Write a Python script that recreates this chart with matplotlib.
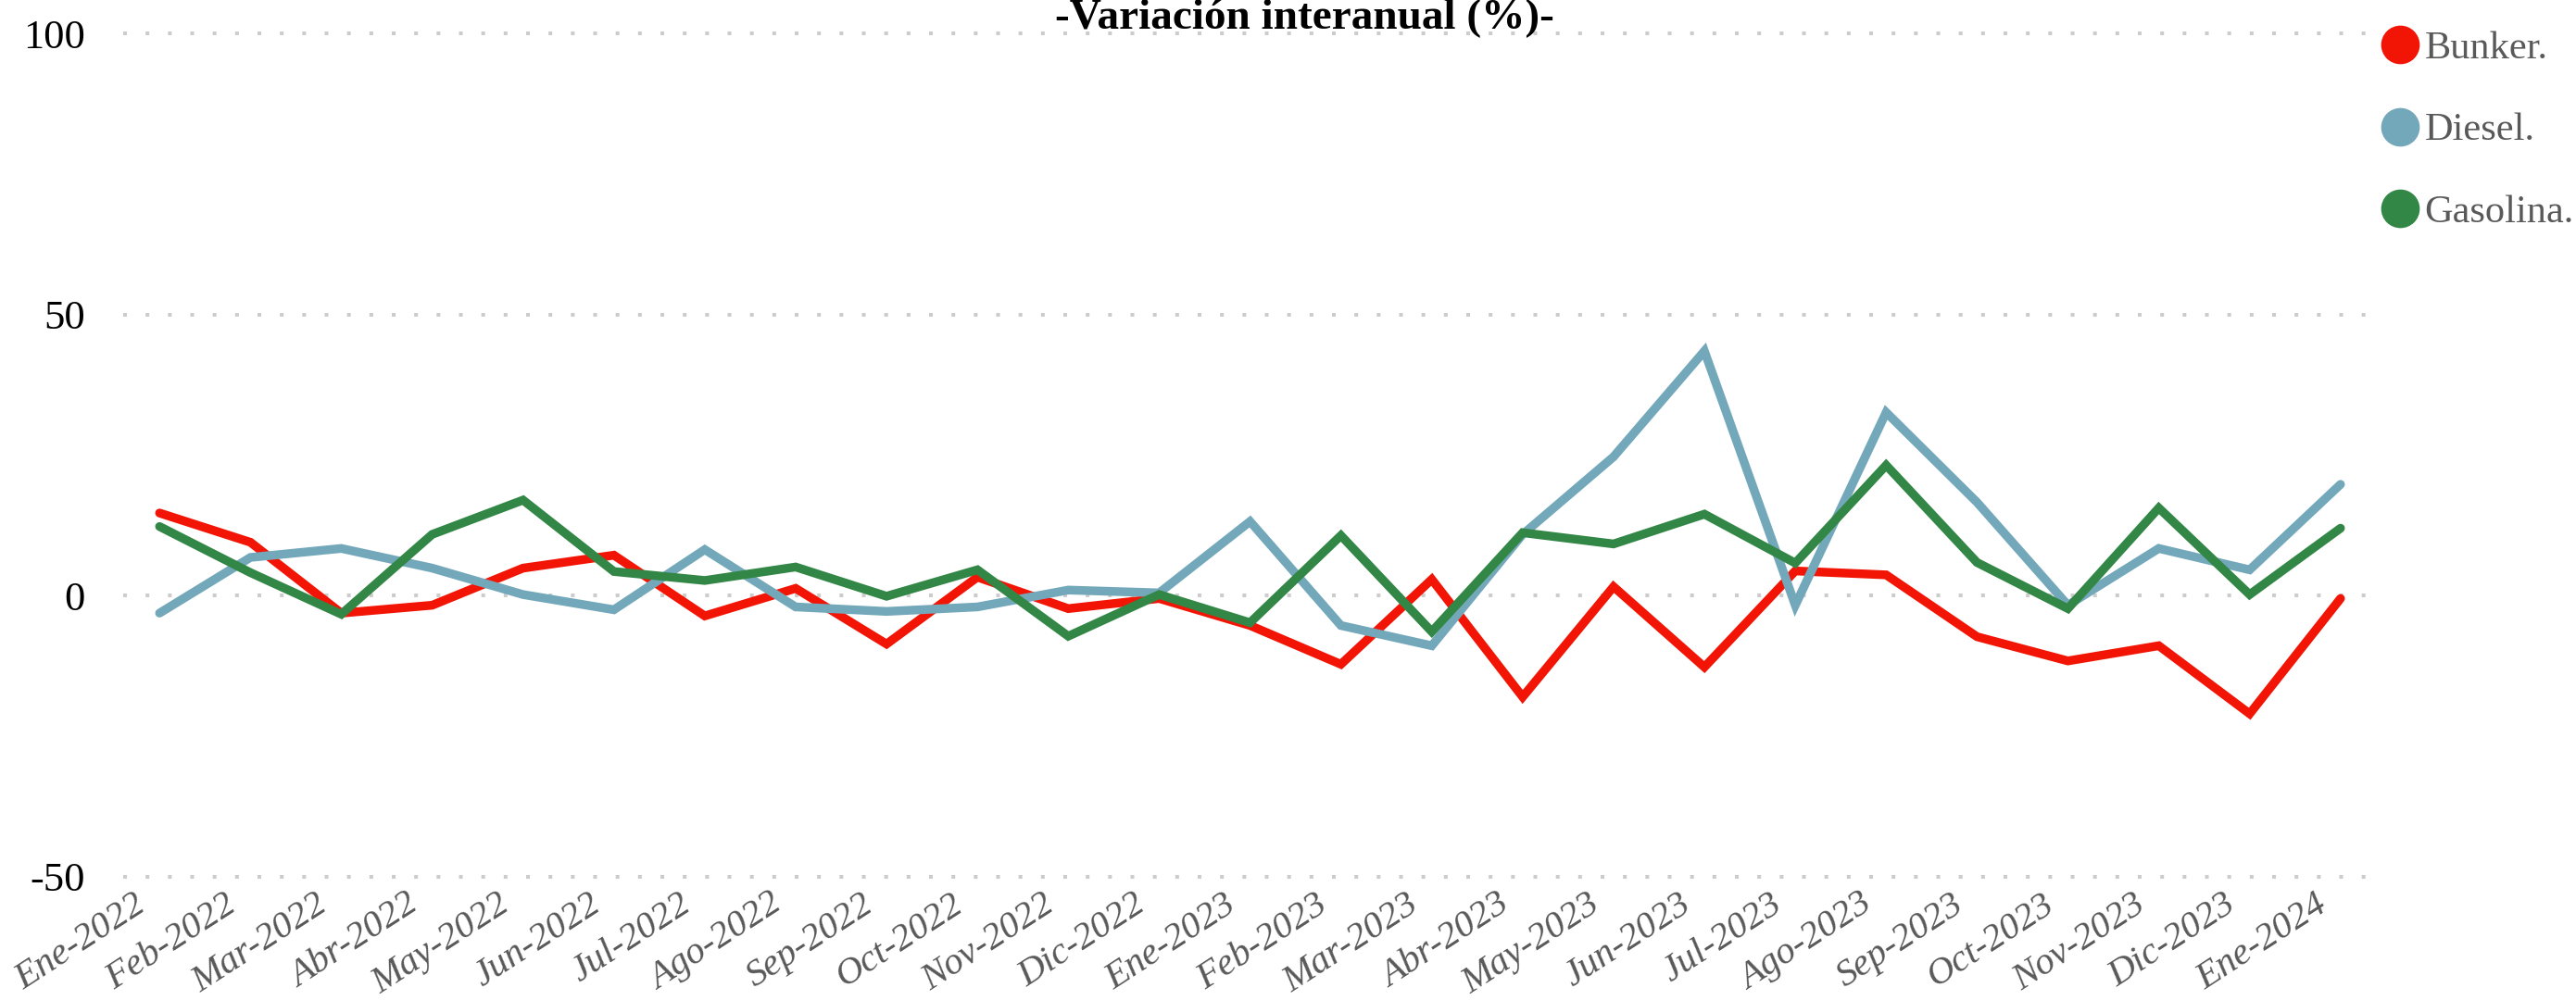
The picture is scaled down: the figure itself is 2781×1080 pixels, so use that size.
import matplotlib
matplotlib.use("Agg")
import matplotlib.pyplot as plt
from matplotlib.lines import Line2D
import matplotlib.transforms as mtransforms

months = ['Ene-2022', 'Feb-2022', 'Mar-2022', 'Abr-2022', 'May-2022', 'Jun-2022',
          'Jul-2022', 'Ago-2022', 'Sep-2022', 'Oct-2022', 'Nov-2022', 'Dic-2022',
          'Ene-2023', 'Feb-2023', 'Mar-2023', 'Abr-2023', 'May-2023', 'Jun-2023',
          'Jul-2023', 'Ago-2023', 'Sep-2023', 'Oct-2023', 'Nov-2023', 'Dic-2023',
          'Ene-2024']
bunker = [14.7, 9.5, -3.1, -1.7, 4.9, 7.2, -3.6, 1.3, -8.6, 3.3, -2.3, -0.5,
          -5.3, -12.2, 2.9, -18.0, 1.6, -12.7, 4.4, 3.7, -7.3, -11.6, -8.9, -21.0, -0.5]
diesel = [-3.1, 6.8, 8.4, 4.9, 0.2, -2.5, 8.2, -2.0, -2.8, -2.0, 1.0, 0.5,
          13.2, -5.3, -8.9, 10.9, 24.7, 43.5, -1.7, 32.6, 16.6, -1.7, 8.4, 4.6, 19.8]
gasolina = [12.3, 4.1, -3.3, 10.9, 17.0, 4.3, 2.7, 5.1, -0.1, 4.6, -7.2, 0.2,
            -4.8, 10.7, -6.4, 11.2, 9.2, 14.5, 5.8, 23.2, 5.9, -2.3, 15.6, 0.2, 12.0]
series_names = ['Bunker.', 'Diesel.', 'Gasolina.']
series_colors = ['#F21505', '#73A8BA', '#338746']
yticks = [-50, 0, 50, 100]
title = '-Variación interanual (%)-'

plt.rcParams['font.family'] = ['Liberation Serif', 'DejaVu Serif']

W, H = 2781, 1080
fig = plt.figure(figsize=(W / 100, H / 100), dpi=100)
ax = fig.add_axes([133 / W, 1 - 947 / H, (2568 - 133) / W, (947 - 36) / H])

x = list(range(len(months)))
for vals, name, col in zip([bunker, diesel, gasolina], series_names, series_colors):
    ax.plot(x, vals, color=col, lw=6.8, solid_capstyle='round',
            solid_joinstyle='miter', label=name, zorder=3)

ax.set_xlim(-0.4, len(months) - 1 + 0.42)
ax.set_ylim(-50, 100)
ax.set_yticks(yticks)
ax.set_yticklabels([str(v) for v in yticks], fontsize=32, color='black')
ax.tick_params(axis='y', length=0, pad=29.5)
ax.grid(axis='y', color='#CCCCCC', lw=2.9, linestyle=(0, (1, 5)), dash_capstyle='butt')
ax.grid(axis='x', visible=False)
for sp in ax.spines.values():
    sp.set_visible(False)
for gl in ax.get_ygridlines():
    gl.set_clip_on(False)

ax.set_xticks(x)
ax.set_xticklabels(months, fontsize=29.5, style='italic', color='#595959',
                   rotation=33, ha='right', va='baseline', rotation_mode='anchor')
ax.tick_params(axis='x', length=0, pad=25)
offset = mtransforms.ScaledTranslation(-13 / 100, 0, fig.dpi_scale_trans)
for lbl in ax.get_xticklabels():
    lbl.set_transform(lbl.get_transform() + offset)

fig.text(1408 / W, 1 - 31 / H, title, ha='center', va='baseline',
         fontsize=34, fontweight='bold', color='black')

handles = [Line2D([], [], linestyle='none', marker='o', markersize=29,
                  markerfacecolor=c, markeredgecolor=c) for c in series_colors]
leg = fig.legend(handles, series_names, loc='upper left',
                 bbox_to_anchor=(2570 / W, 1 - 33.5 / H), bbox_transform=fig.transFigure,
                 frameon=False, fontsize=30.5, borderpad=0, borderaxespad=0,
                 handlelength=1.0, handletextpad=0.12, labelspacing=1.17)
for t in leg.get_texts():
    t.set_color('#595959')

fig.savefig('out.png', dpi=100, facecolor='white')
